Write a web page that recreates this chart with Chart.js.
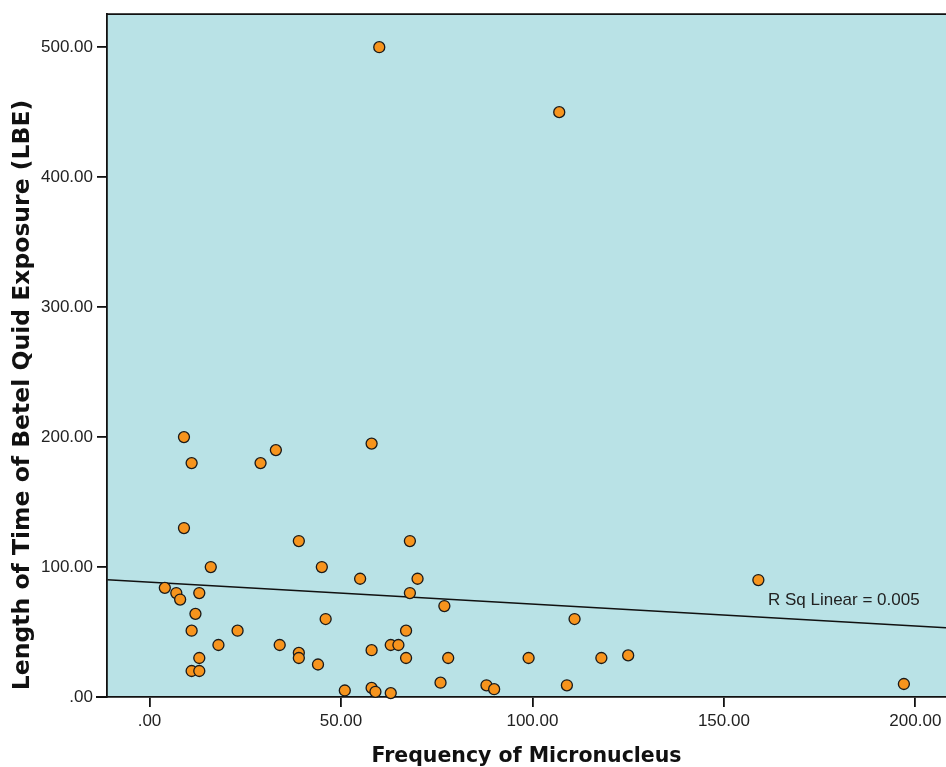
<!DOCTYPE html>
<html>
<head>
<meta charset="utf-8">
<script src="https://cdn.jsdelivr.net/npm/chart.js@4.4.1/dist/chart.umd.min.js"></script>
<style>
  body{margin:0;background:#fff;}
  canvas{display:block;}
</style>
</head>
<body>
<canvas id="chart" width="946" height="767"></canvas>
<script>
// values
const micronucleus = [60,107,9,11,33,29,58,9,39,68,16,45,55,70,4,7,8,13,68,77,12,46,11,23,67,18,34,63,65,13,39,39,58,67,78,44,11,13,76,51,58,59,63,111,99,118,125,88,90,109,159,197];
const exposure = [500,450,200,180,190,180,195,130,120,120,100,100,91,91,84,80,75,80,80,70,64,60,51,51,51,40,40,40,40,30,34,30,36,30,30,25,20,20,11,5,7,4,3,60,30,30,32,9,6,9,90,10];
const fitX = [-11, 208];
const fitY = [90.2, 53.3];
const xTicks = [0, 50, 100, 150, 200];
const yTicks = [0, 100, 200, 300, 400, 500];
const rSqText = 'R Sq Linear = 0.005';
const yTitle = 'Length of Time of Betel Quid Exposure (LBE)';

const points = micronucleus.map((x, i) => ({x: x, y: exposure[i]}));
const fitLine = fitX.map((x, i) => ({x: x, y: fitY[i]}));

const fmt = v => v === 0 ? '.00' : v.toFixed(2);
const FONT = "'Liberation Sans', Arial, sans-serif";
const TITLE_FONT = "'DejaVu Sans', Verdana, sans-serif";

const plotBg = {
  id: 'plotBg',
  beforeDraw(chart){
    const {ctx, chartArea:a} = chart;
    ctx.save();
    ctx.fillStyle = '#b9e2e6';
    ctx.fillRect(a.left, a.top, a.right - a.left, a.bottom - a.top);
    ctx.strokeStyle = '#111';
    ctx.lineWidth = 1.8;
    ctx.beginPath();
    ctx.moveTo(a.left, a.top);
    ctx.lineTo(a.right, a.top);
    ctx.moveTo(a.left - 11, a.bottom);
    ctx.lineTo(a.left, a.bottom);
    ctx.stroke();
    ctx.restore();
  },
  afterDatasetsDraw(chart){
    const {ctx, scales} = chart;
    ctx.save();
    ctx.fillStyle = '#222';
    ctx.font = '17px ' + FONT;
    ctx.textAlign = 'left';
    ctx.textBaseline = 'middle';
    ctx.fillText(rSqText, scales.x.getPixelForValue(161.5), scales.y.getPixelForValue(74.5));
    ctx.restore();
  },
  afterDraw(chart){
    // SPSS puts the y title a bit lower than the axis centre
    const ctx = chart.ctx;
    ctx.save();
    ctx.translate(23, 395);
    ctx.rotate(-Math.PI / 2);
    ctx.fillStyle = '#111';
    ctx.font = 'bold 23.5px ' + TITLE_FONT;
    ctx.textAlign = 'center';
    ctx.textBaseline = 'middle';
    ctx.fillText(yTitle, 0, 0);
    ctx.restore();
  }
};

new Chart(document.getElementById('chart').getContext('2d'), {
  type: 'scatter',
  data: {
    datasets: [
      {
        label: 'LBE',
        data: points,
        backgroundColor: '#f7941d',
        borderColor: '#1a1a1a',
        borderWidth: 1.3,
        pointRadius: 5.5,
        pointHoverRadius: 5.5,
        clip: false,
        order: 0
      },
      {
        type: 'line',
        label: 'Fit',
        data: fitLine,
        borderColor: '#111',
        borderWidth: 1.6,
        pointRadius: 0,
        fill: false,
        order: 1
      }
    ]
  },
  options: {
    responsive: false,
    animation: false,
    layout: {autoPadding: false, padding: {top: 14, right: 0, left: 0, bottom: 0}},
    plugins: {legend: {display: false}, tooltip: {enabled: false}},
    scales: {
      x: {
        type: 'linear',
        min: -11.1,
        max: 208,
        afterBuildTicks: s => { s.ticks = xTicks.map(v => ({value: v})); },
        afterFit: s => { s.height = 70; s.paddingRight = 0; s.paddingLeft = 0; },
        grid: {drawOnChartArea: false, drawTicks: true, tickLength: 10, tickColor: '#111', lineWidth: 1.8},
        border: {display: true, color: '#111', width: 1.8},
        ticks: {color: '#222', font: {family: FONT, size: 17}, padding: 4, callback: v => fmt(v), maxRotation: 0},
        title: {display: true, text: 'Frequency of Micronucleus', color: '#111', font: {family: TITLE_FONT, size: 20.5, weight: 'bold', lineHeight: 1}, padding: {top: 0, bottom: 0}}
      },
      y: {
        type: 'linear',
        min: 0,
        max: 525.4,
        afterBuildTicks: s => { s.ticks = yTicks.map(v => ({value: v})); },
        afterFit: s => { s.width = 107; },
        grid: {drawOnChartArea: false, drawTicks: true, tickLength: 10, tickColor: '#111', lineWidth: 1.8},
        border: {display: true, color: '#111', width: 1.8},
        ticks: {color: '#222', font: {family: FONT, size: 17}, padding: 4, callback: v => fmt(v)},
        title: {display: false}
      }
    }
  },
  plugins: [plotBg]
});
</script>
</body>
</html>
